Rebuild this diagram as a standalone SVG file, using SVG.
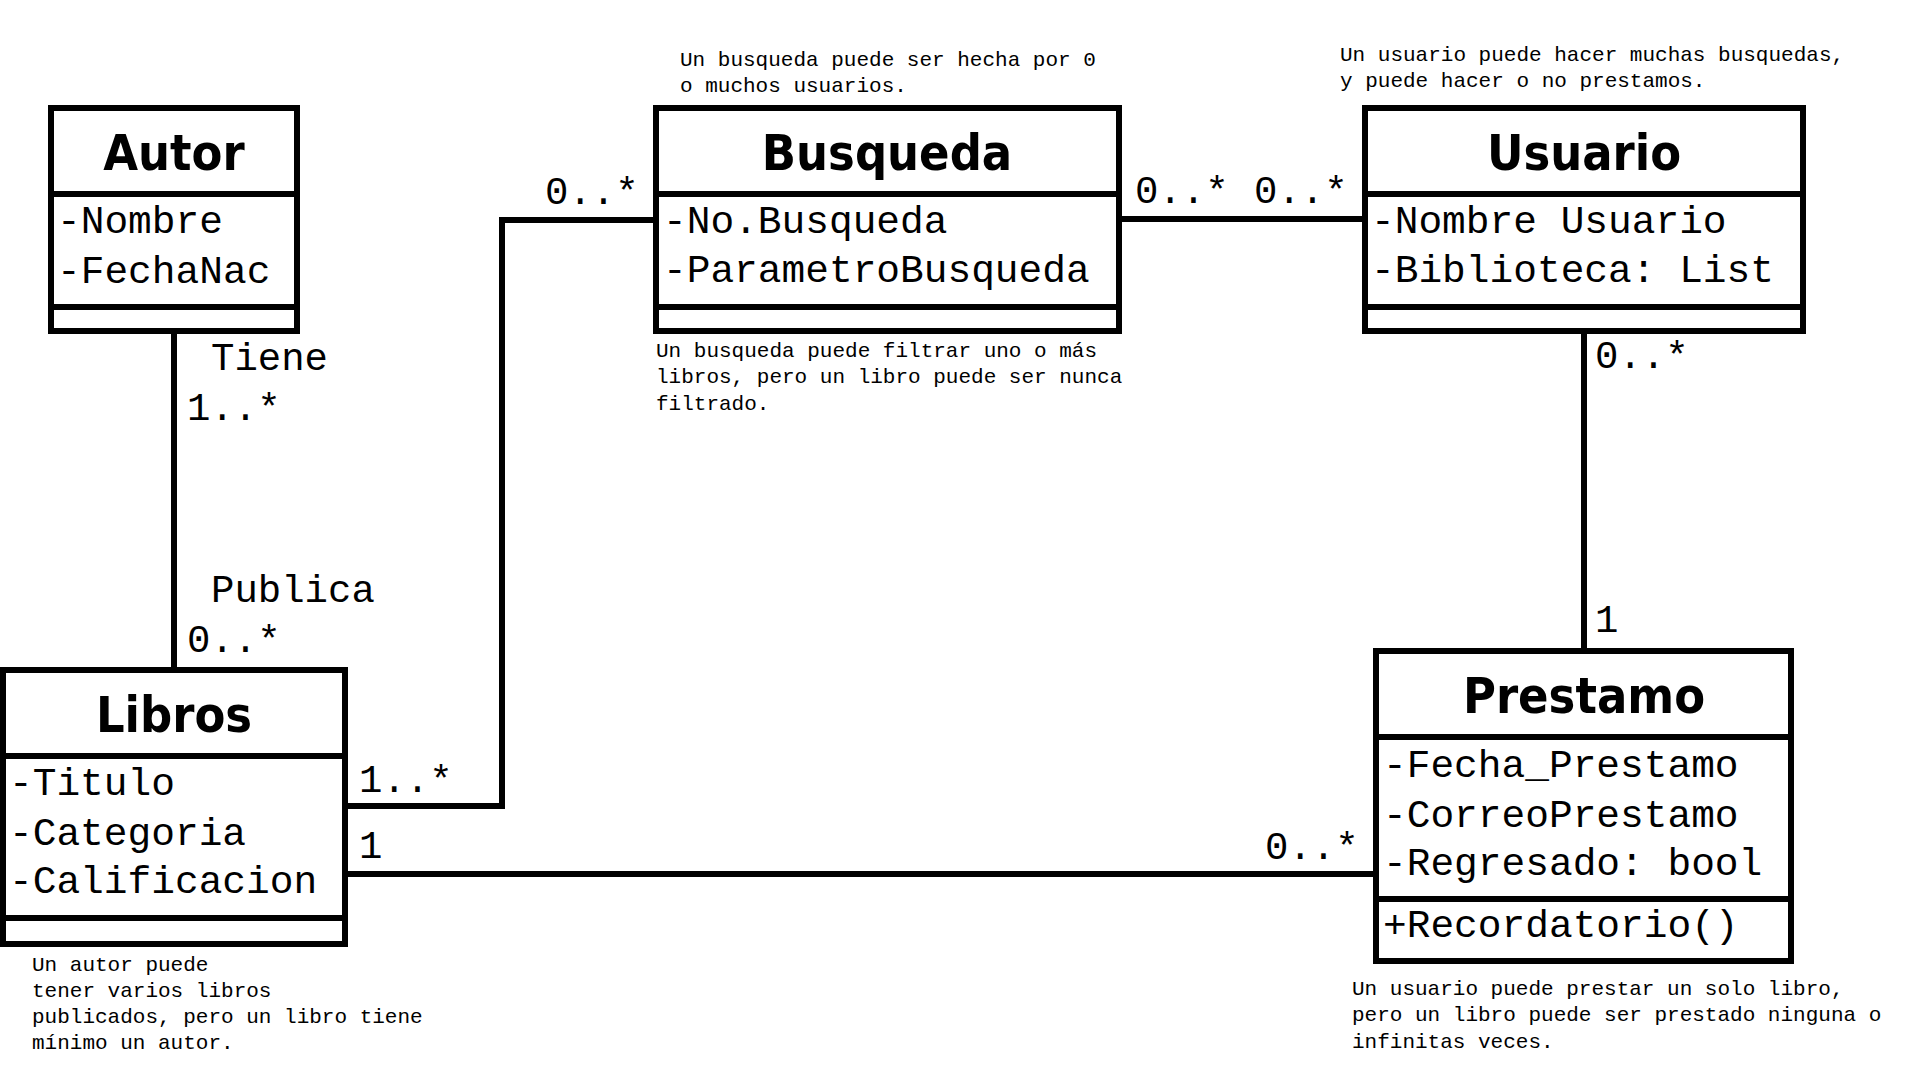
<svg xmlns="http://www.w3.org/2000/svg" width="1920" height="1078" viewBox="0 0 1920 1078">
<style>
.box{fill:#fff;stroke:#000;stroke-width:6}
.div{stroke:#000;stroke-width:6}
.title{font-family:"DejaVu Sans Condensed","DejaVu Sans",sans-serif;font-stretch:condensed;font-weight:bold;font-size:50px;text-anchor:middle;fill:#000}
.attr{font-family:"Liberation Mono","DejaVu Sans Mono",monospace;font-size:39.5px;fill:#000}
.lbl{font-family:"Liberation Mono","DejaVu Sans Mono",monospace;font-size:39px;fill:#000}
.note{font-family:"Liberation Mono","DejaVu Sans Mono",monospace;font-size:21px;fill:#000}
.conn{fill:none;stroke:#000;stroke-width:6}
</style>
<rect width="1920" height="1078" fill="#fff"/>
<g id="connectors">
<line class="conn" x1="174" y1="334" x2="174" y2="667"/>
<polyline class="conn" points="348,806 502,806 502,220 653,220"/>
<line class="conn" x1="1122" y1="219" x2="1362" y2="219"/>
<line class="conn" x1="1584" y1="334" x2="1584" y2="648"/>
<line class="conn" x1="348" y1="874" x2="1373" y2="874"/>
<text class="lbl" x="211" y="370">Tiene</text>
<text class="lbl" x="187" y="420">1..*</text>
<text class="lbl" x="211" y="602">Publica</text>
<text class="lbl" x="187" y="652">0..*</text>
<text class="lbl" x="359" y="792">1..*</text>
<text class="lbl" x="359" y="858">1</text>
<text class="lbl" x="545" y="204">0..*</text>
<text class="lbl" x="1135" y="203">0..*</text>
<text class="lbl" x="1254" y="203">0..*</text>
<text class="lbl" x="1595" y="368">0..*</text>
<text class="lbl" x="1595" y="632">1</text>
<text class="lbl" x="1265" y="859">0..*</text>
</g>
<g id="autor">
<rect class="box" x="51" y="108" width="246" height="223"/>
<line class="div" x1="51" y1="194" x2="297" y2="194"/>
<line class="div" x1="51" y1="307" x2="297" y2="307"/>
<text class="title" x="174" y="170">Autor</text>
<text class="attr" x="57" y="233">-Nombre</text>
<text class="attr" x="57" y="283">-FechaNac</text>
</g>
<g id="libros">
<rect class="box" x="3" y="670" width="342" height="274"/>
<line class="div" x1="3" y1="756" x2="345" y2="756"/>
<line class="div" x1="3" y1="918" x2="345" y2="918"/>
<text class="title" x="174" y="732">Libros</text>
<text class="attr" x="9" y="795">-Titulo</text>
<text class="attr" x="9" y="845">-Categoria</text>
<text class="attr" x="9" y="893">-Calificacion</text>
<text class="note" x="32" y="971">Un autor puede</text>
<text class="note" x="32" y="997">tener varios libros</text>
<text class="note" x="32" y="1023">publicados, pero un libro tiene</text>
<text class="note" x="32" y="1049">mínimo un autor.</text>
</g>
<g id="busqueda">
<rect class="box" x="656" y="108" width="463" height="223"/>
<line class="div" x1="656" y1="194" x2="1119" y2="194"/>
<line class="div" x1="656" y1="307" x2="1119" y2="307"/>
<text class="title" x="887" y="170">Busqueda</text>
<text class="attr" x="663" y="233">-No.Busqueda</text>
<text class="attr" x="663" y="282">-ParametroBusqueda</text>
<text class="note" x="680" y="66">Un busqueda puede ser hecha por 0</text>
<text class="note" x="680" y="92">o muchos usuarios.</text>
<text class="note" x="656" y="357">Un busqueda puede filtrar uno o más</text>
<text class="note" x="656" y="383">libros, pero un libro puede ser nunca</text>
<text class="note" x="656" y="410">filtrado.</text>
</g>
<g id="usuario">
<rect class="box" x="1365" y="108" width="438" height="223"/>
<line class="div" x1="1365" y1="194" x2="1803" y2="194"/>
<line class="div" x1="1365" y1="307" x2="1803" y2="307"/>
<text class="title" x="1584" y="170">Usuario</text>
<text class="attr" x="1371" y="233">-Nombre Usuario</text>
<text class="attr" x="1371" y="282">-Biblioteca: List</text>
<text class="note" x="1340" y="61">Un usuario puede hacer muchas busquedas,</text>
<text class="note" x="1340" y="87">y puede hacer o no prestamos.</text>
</g>
<g id="prestamo">
<rect class="box" x="1376" y="651" width="415" height="310"/>
<line class="div" x1="1376" y1="737" x2="1791" y2="737"/>
<line class="div" x1="1376" y1="899" x2="1791" y2="899"/>
<text class="title" x="1584" y="713">Prestamo</text>
<text class="attr" x="1383" y="777">-Fecha_Prestamo</text>
<text class="attr" x="1383" y="827">-CorreoPrestamo</text>
<text class="attr" x="1383" y="875">-Regresado: bool</text>
<text class="attr" x="1383" y="937">+Recordatorio()</text>
<text class="note" x="1352" y="995">Un usuario puede prestar un solo libro,</text>
<text class="note" x="1352" y="1021">pero un libro puede ser prestado ninguna o</text>
<text class="note" x="1352" y="1048">infinitas veces.</text>
</g>
</svg>
